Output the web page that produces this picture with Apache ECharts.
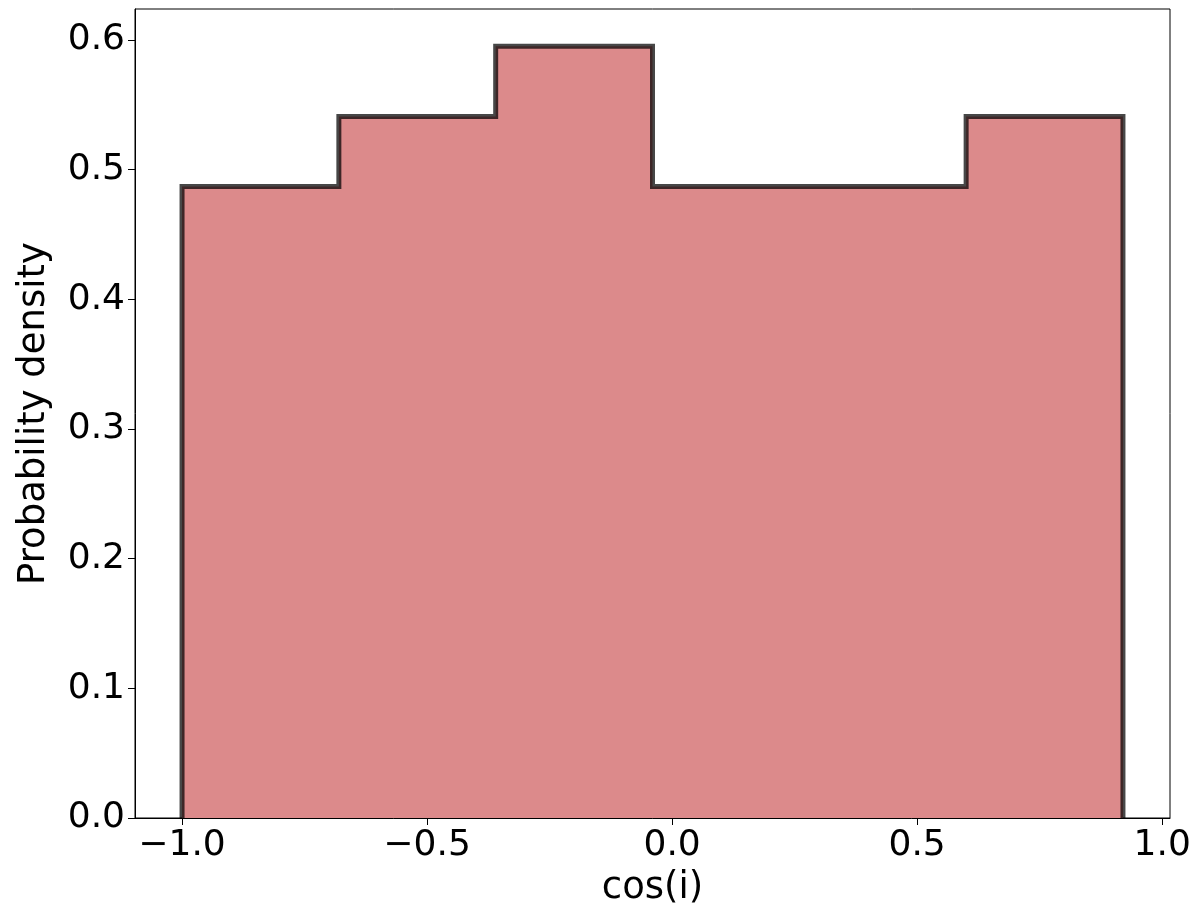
<!DOCTYPE html>
<html>
<head>
<meta charset="utf-8">
<script src="https://cdn.jsdelivr.net/npm/echarts@6/dist/echarts.min.js"></script>
<style>html,body{margin:0;padding:0;background:#fff}#c{width:1200px;height:912px}</style>
</head>
<body>
<div id="c"></div>
<script>
// Histogram bin edges and density values
const binEdges = [-1.0, -0.68, -0.36, -0.04, 0.28, 0.60, 0.92];
const density = [0.487, 0.541, 0.595, 0.487, 0.487, 0.541];
const xTicks = [-1.0, -0.5, 0.0, 0.5, 1.0];
const yTicks = [0.0, 0.1, 0.2, 0.3, 0.4, 0.5, 0.6];
const xLabel = 'cos(i)';
const yLabel = 'Probability density';

// build step outline from the arrays
const stepData = [[binEdges[0], 0]];
density.forEach((v, i) => {
  stepData.push([binEdges[i], v]);
  stepData.push([binEdges[i + 1], v]);
});
stepData.push([binEdges[binEdges.length - 1], 0]);

const fmt = v => v.toFixed(1).replace('-', '\u2212');
const font = 'DejaVu Sans';

const chart = echarts.init(document.getElementById('c'), null, {renderer: 'canvas'});
chart.setOption({
  animation: false,
  backgroundColor: '#fff',
  grid: {left: 135, right: 30, top: 9, bottom: 92, show: true, borderColor: '#000', borderWidth: 1, backgroundColor: 'transparent'},
  xAxis: {
    type: 'value', min: -1.096, max: 1.016,
    name: xLabel, nameLocation: 'middle', nameGap: 52,
    nameTextStyle: {fontFamily: font, fontSize: 37, color: '#000'},
    axisLine: {show: true, onZero: false, lineStyle: {color: '#000', width: 1}},
    axisTick: {show: true, length: 7, inside: false, customValues: xTicks, lineStyle: {color: '#000', width: 1}},
    axisLabel: {customValues: xTicks, formatter: fmt, fontFamily: font, fontSize: 36, color: '#000', margin: 10},
    splitLine: {show: false}
  },
  yAxis: {
    type: 'value', min: 0, max: 0.6238,
    name: yLabel, nameLocation: 'middle', nameGap: 82,
    nameTextStyle: {fontFamily: font, fontSize: 37, color: '#000'},
    axisLine: {show: true, onZero: false, lineStyle: {color: '#000', width: 1}},
    axisTick: {show: true, length: 7, inside: false, customValues: yTicks, lineStyle: {color: '#000', width: 1}},
    axisLabel: {customValues: yTicks, formatter: fmt, fontFamily: font, fontSize: 36, color: '#000', margin: 10},
    splitLine: {show: false}
  },
  series: [{
    type: 'line',
    data: stepData,
    symbol: 'none',
    lineStyle: {color: 'rgba(0,0,0,0.72)', width: 5, join: 'miter'},
    areaStyle: {color: '#dc8a8b', opacity: 1, origin: 0},
    clip: true
  }]
});
</script>
</body>
</html>
